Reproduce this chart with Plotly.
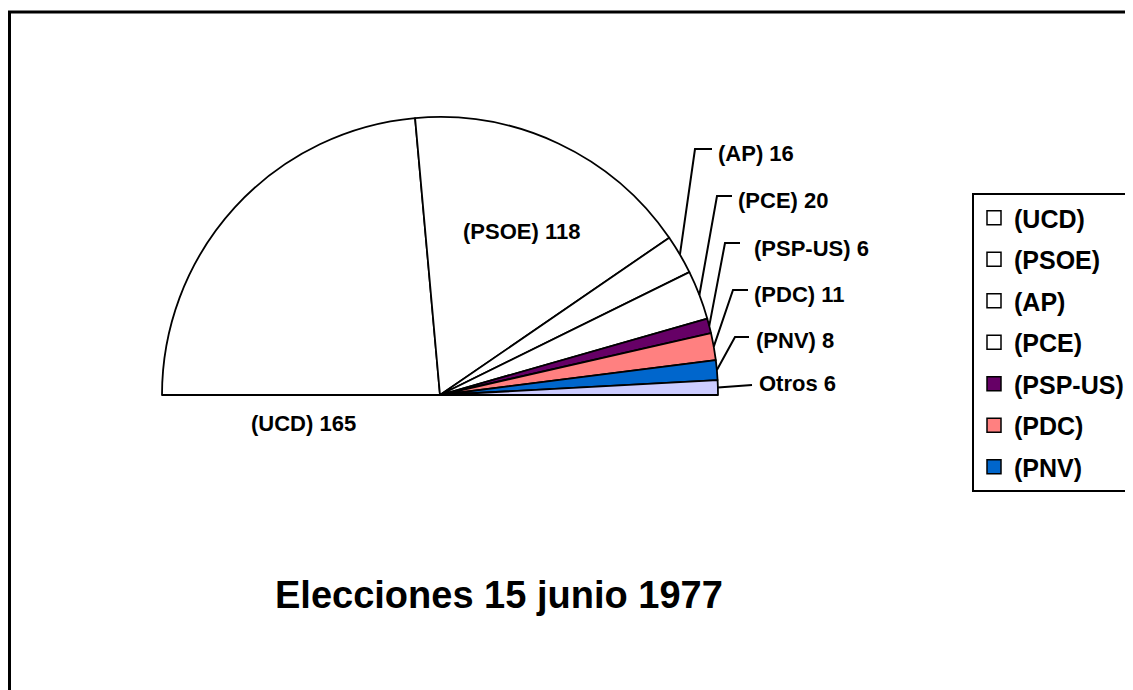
import math
import plotly.graph_objects as go

# ---------------- data ----------------
parties = ["(UCD)", "(PSOE)", "(AP)", "(PCE)", "(PSP-US)", "(PDC)", "(PNV)", "Otros"]
seats = [165, 118, 16, 20, 6, 11, 8, 6]
slice_colors = ["#FFFFFF", "#FFFFFF", "#FFFFFF", "#FFFFFF", "#660066", "#FF8080", "#0066CC", "#CCCCFF"]
legend_names = ["(UCD)", "(PSOE)", "(AP)", "(PCE)", "(PSP-US)", "(PDC)", "(PNV)"]
title_text = "Elecciones 15 junio 1977"

# ---------------- layout constants ----------------
W, H = 1133, 690
OFF = 8  # page offset of the figure inside the browser window
CX, CY, R = 440, 395, 278
FONT = "Liberation Sans, Arial, sans-serif"


def px2paper(x, y):
    return (x - OFF) / W, 1 - (y - OFF) / H


total = sum(seats)
pie_labels = parties + [""]
pie_values = seats + [total]  # invisible lower half
pie_colors = slice_colors + ["rgba(0,0,0,0)"]
line_widths = [1.8] * len(seats) + [0]

dx0, dy0 = px2paper(CX - R, CY + R)
dx1, dy1 = px2paper(CX + R, CY - R)

fig = go.Figure()
fig.add_trace(go.Pie(
    labels=pie_labels, values=pie_values, sort=False,
    direction="clockwise", rotation=-90,
    marker=dict(colors=pie_colors, line=dict(color="black", width=line_widths)),
    textinfo="none", hoverinfo="label+value", showlegend=False,
    domain=dict(x=[dx0, dx1], y=[dy0, dy1]),
))

# legend entries
for i, name in enumerate(legend_names):
    fig.add_trace(go.Scatter(
        x=[None], y=[None], mode="markers", name=name, legendgroup=str(i),
        marker=dict(symbol="square", size=14, color=slice_colors[i],
                    line=dict(color="black", width=1.5)),
    ))

# slice mid angles (degrees, math convention) computed from the data
mid_angles = []
acc = 0
for v in seats:
    a0 = 180 - acc / (2 * total) * 360
    acc += v
    a1 = 180 - acc / (2 * total) * 360
    mid_angles.append((a0 + a1) / 2)

# leader-line bends and label anchors (pixels) for the small slices
leader_bends = {
    2: [(695, 149), (712, 149)],
    3: [(717, 196), (732, 196)],
    4: [(725, 243), (740, 243)],
    5: [(733, 290), (748, 290)],
    6: [(735, 337), (749, 337)],
    7: [(752, 385)],
}
label_pos = {
    0: (303, 423, "center"),
    1: (521, 232, "center"),
    2: (716, 153, "left"),
    3: (736, 201, "left"),
    4: (752, 248, "left"),
    5: (752, 294, "left"),
    6: (754, 340, "left"),
    7: (757, 383, "left"),
}

shapes = []
for i, bends in leader_bends.items():
    ang = math.radians(mid_angles[i])
    ex, ey = CX + R * math.cos(ang), CY - R * math.sin(ang)
    pts = [(ex, ey)] + bends
    path = "M " + " L ".join(f"{px2paper(x, y)[0]},{px2paper(x, y)[1]}" for x, y in pts)
    shapes.append(dict(type="path", xref="paper", yref="paper", path=path,
                       line=dict(color="black", width=2)))

# frame around the chart (right/bottom edges fall outside the image)
fx0, fy1 = px2paper(9.5, 12)
shapes.append(dict(type="rect", xref="paper", yref="paper",
                   x0=fx0, x1=1.2, y0=-0.2, y1=fy1,
                   line=dict(color="black", width=3), layer="below"))

annotations = []
for i, (x, y, anchor) in label_pos.items():
    xp, yp = px2paper(x, y)
    annotations.append(dict(
        x=xp, y=yp, xref="paper", yref="paper", xanchor=anchor, yanchor="middle",
        text=f"{parties[i]} {seats[i]}", showarrow=False,
        font=dict(family=FONT, size=22, color="black", weight="bold"),
    ))

tx, ty = px2paper(499, 595)
annotations.append(dict(
    x=tx, y=ty, xref="paper", yref="paper", xanchor="center", yanchor="middle",
    text=title_text, showarrow=False,
    font=dict(family=FONT, size=38, color="black", weight="bold"),
))

lx, ly = px2paper(972, 193)
fig.update_layout(
    width=W, height=H,
    margin=dict(l=0, r=0, t=0, b=0),
    paper_bgcolor="white", plot_bgcolor="white",
    xaxis=dict(visible=False), yaxis=dict(visible=False),
    shapes=shapes, annotations=annotations,
    showlegend=True,
    legend=dict(x=lx, y=ly, xanchor="left", yanchor="top",
                bordercolor="black", borderwidth=2, bgcolor="white",
                tracegroupgap=6,
                font=dict(family=FONT, size=25, color="black", weight="bold")),
)

fig.write_html("out.html")
